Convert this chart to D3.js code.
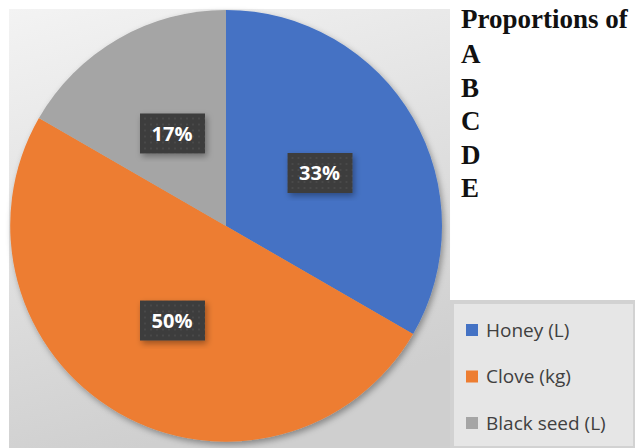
<!DOCTYPE html>
<html>
<head>
<meta charset="utf-8">
<script src="https://cdn.jsdelivr.net/npm/d3@7"></script>
<style>
  body { margin: 0; background: #fff; }
  svg { display: block; }
</style>
</head>
<body>
<svg id="chart" width="635" height="448"></svg>
<script>
// data
var categories = ["Honey (L)", "Clove (kg)", "Black seed (L)"];
var values = [2, 3, 1];
var colors = ["#4472C4", "#ED7D31", "#A5A5A5"];
var titleLines = ["Proportions of", "A", "B", "C", "D", "E"];

var svg = d3.select("#chart");
var defs = svg.append("defs");

var bg = defs.append("linearGradient")
    .attr("id", "bg")
    .attr("x1", 0).attr("y1", 0).attr("x2", 0.3).attr("y2", 1);
bg.append("stop").attr("offset", "0%").attr("stop-color", "#f3f3f3");
bg.append("stop").attr("offset", "100%").attr("stop-color", "#cfcfcf");

var shadow = defs.append("filter").attr("id", "shadow")
    .attr("x", "-20%").attr("y", "-20%").attr("width", "140%").attr("height", "140%");
shadow.append("feDropShadow")
    .attr("dx", 2).attr("dy", 3).attr("stdDeviation", 3)
    .attr("flood-color", "#000").attr("flood-opacity", 0.35);

var dots = defs.append("pattern").attr("id", "dots")
    .attr("width", 6).attr("height", 6).attr("patternUnits", "userSpaceOnUse");
dots.append("rect").attr("width", 6).attr("height", 6).attr("fill", "#3d3d3d");
dots.append("circle").attr("cx", 3).attr("cy", 3).attr("r", 0.8).attr("fill", "#555");

// plot area background
svg.append("rect")
    .attr("x", 9).attr("y", 9)
    .attr("width", 441).attr("height", 439)
    .attr("fill", "url(#bg)");

var cx = 226, cy = 226, r = 216;

var pie = d3.pie().sort(null).value(function(d) { return d; });
var arcs = pie(values);
var total = d3.sum(values);
var arc = d3.arc().innerRadius(0).outerRadius(r);
var labelArc = d3.arc().innerRadius(r * 0.5).outerRadius(r * 0.5);
var pct = d3.format(".0%");

var g = svg.append("g").attr("transform", "translate(" + cx + "," + cy + ")");

g.append("g")
    .attr("filter", "url(#shadow)")
    .selectAll("path")
    .data(arcs)
    .enter()
    .append("path")
    .attr("d", arc)
    .attr("fill", function(d, i) { return colors[i]; });

var labels = g.selectAll("g.label")
    .data(arcs)
    .enter()
    .append("g")
    .attr("class", "label")
    .attr("transform", function(d) {
        var c = labelArc.centroid(d);
        return "translate(" + c[0] + "," + (c[1] + 1) + ")";
    });

labels.append("rect")
    .attr("x", -32).attr("y", -20)
    .attr("width", 65).attr("height", 40)
    .attr("fill", "url(#dots)")
    .attr("filter", "url(#shadow)");

labels.append("text")
    .attr("text-anchor", "middle")
    .attr("dy", "0.36em")
    .attr("fill", "#fff")
    .style("font-family", "'Open Sans', sans-serif")
    .style("font-weight", "bold")
    .style("font-size", "20px")
    .text(function(d) { return pct(d.value / total); });

// title block
svg.append("g")
    .selectAll("text")
    .data(titleLines)
    .enter()
    .append("text")
    .attr("x", 461)
    .attr("y", function(d, i) { return i === 0 ? 28 : 63 + (i - 1) * 33.5; })
    .attr("fill", "#111")
    .style("font-family", "'Liberation Serif', 'Times New Roman', serif")
    .style("font-weight", "bold")
    .style("font-size", "27px")
    .text(function(d) { return d; });

// legend
var lg = svg.append("g");
lg.append("rect")
    .attr("x", 452).attr("y", 302)
    .attr("width", 183).attr("height", 146)
    .attr("fill", "#e6e6e6")
    .attr("stroke", "#d2d2d2")
    .attr("stroke-width", 4);

var items = lg.selectAll("g.item")
    .data(categories)
    .enter()
    .append("g")
    .attr("class", "item")
    .attr("transform", function(d, i) { return "translate(466," + (330 + i * 46.5) + ")"; });

items.append("rect")
    .attr("x", 0).attr("y", -6)
    .attr("width", 12).attr("height", 12)
    .attr("fill", function(d, i) { return colors[i]; });

items.append("text")
    .attr("x", 20)
    .attr("dy", "0.36em")
    .attr("fill", "#404040")
    .style("font-family", "'Open Sans', sans-serif")
    .style("font-size", "19px")
    .text(function(d) { return d; });
</script>
</body>
</html>
